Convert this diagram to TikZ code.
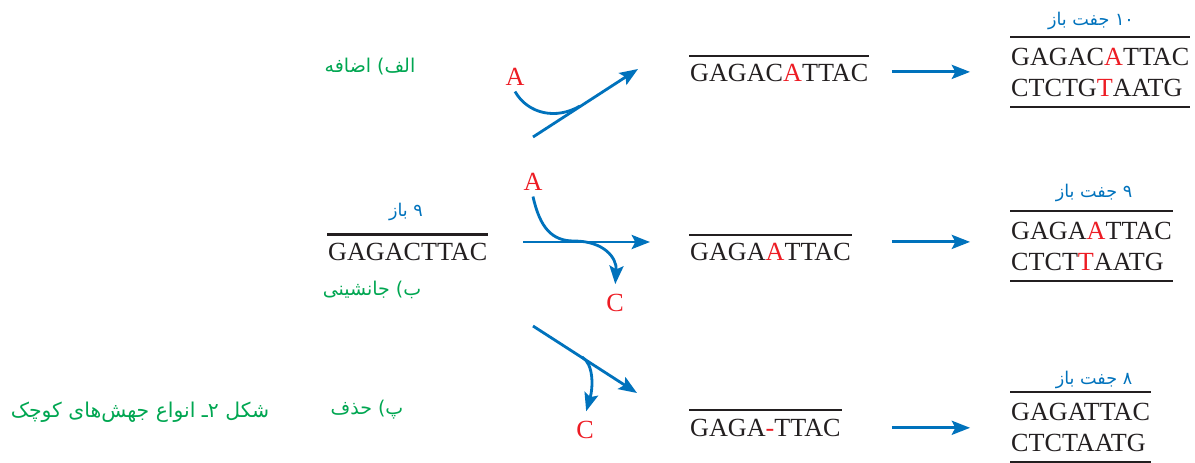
\documentclass[tikz,border=0pt]{standalone}
\usepackage{fontspec}
\setmainfont{Liberation Serif}
\newfontfamily\arabicfont[Script=Arabic]{DejaVu Sans}
\TeXXeTstate=1
\usetikzlibrary{positioning,arrows.meta}
\definecolor{arrowblue}{RGB}{0,114,188}
\definecolor{labelgreen}{RGB}{0,166,81}
\definecolor{basered}{RGB}{237,28,36}
\definecolor{seqgray}{RGB}{35,31,32}
\newcommand{\fa}[1]{\beginR #1\endR}
\newcommand{\mut}[1]{\textcolor{basered}{#1}}
\tikzset{
  flowarrow/.style={-{Stealth[length=13pt,width=10pt,inset=2.5pt]}, line width=2pt, draw=arrowblue},
  flowline/.style={line width=2pt, draw=arrowblue},
  seqline/.style={line width=1.6pt, draw=seqgray},
  strand/.style={anchor=west, inner xsep=0.6pt, inner ysep=6pt, text=seqgray, font=\fontsize{18.6}{22}\selectfont},
  duplex/.style={strand, inner ysep=7.2pt, align=left},
  base/.style={text=basered, font=\fontsize{18.6}{20}\selectfont, inner sep=4pt},
  typelabel/.style={text=labelgreen, font=\fontsize{13.5}{15}\arabicfont},
  sizelabel/.style={text=arrowblue, font=\fontsize{12.5}{15}\arabicfont}
}
\begin{document}
\begin{tikzpicture}[x=0.025cm, y=-0.025cm]
  \useasboundingbox (0,0) rectangle (1195,462);

  % insertion
  \node[typelabel] (instype) at (370,67) {\fa{الف) اضافه}};
  \node[base] (insA) at (515,77) {A};
  \coordinate (insfrom) at (533,137);
  \coordinate (insto) at (638,69);
  \coordinate (insjoin) at (580,106);
  \draw[flowarrow] (insfrom) -- (insto);
  \draw[flowline] (insA.south) .. controls (528,114) and (556,120) .. (insjoin);
  \node[strand] (ins1) at (689,73.3) {GAGAC\mut{A}TTAC};
  \draw[seqline] (ins1.north west) -- (ins1.north east);
  \node[sizelabel] (ins10) at (1091,21) {\fa{۱۰ جفت باز}};
  \node[duplex] (ins2) at (1010,72) {GAGAC\mut{A}TTAC\\CTCTG\mut{T}AATG};
  \draw[seqline] (ins2.north west) -- (ins2.north east);
  \draw[seqline] (ins2.south west) -- (ins2.south east);
  \draw[flowarrow, shorten >=28.4pt] ([shift={(-84pt,1pt)}]ins1.east -| ins2.west) -- ([yshift=1pt]ins1.east -| ins2.west);

  % substitution
  \node[sizelabel] (orig9) at (406,212) {\fa{۹ باز}};
  \node[strand] (orig) at (327,252) {GAGACTTAC};
  \draw[seqline] (orig.north west) -- (orig.north east);
  \node[typelabel] (subtype) at (372,290) {\fa{ب) جانشینی}};
  \node[base] (subA) at (533,182) {A};
  \node[base] (subC) at (615,303) {C};
  \coordinate (subfrom) at (523,242);
  \coordinate (subto) at (650,242);
  \draw[flowarrow] (subfrom) -- (subto);
  \draw[flowarrow, shorten >=3pt] (subA.south) .. controls (540,228) and (552,241) .. (574,241)
    .. controls (604,241) and (617,258) .. (subC.north);
  \node[strand] (sub1) at (689,252.3) {GAGA\mut{A}TTAC};
  \draw[seqline] (sub1.north west) -- (sub1.north east);
  \node[sizelabel] (sub9) at (1094,193) {\fa{۹ جفت باز}};
  \node[duplex] (sub2) at (1010,246) {GAGA\mut{A}TTAC\\CTCT\mut{T}AATG};
  \draw[seqline] (sub2.north west) -- (sub2.north east);
  \draw[seqline] (sub2.south west) -- (sub2.south east);
  \draw[flowarrow, shorten >=28.4pt] ([shift={(-84pt,7.4pt)}]sub1.east -| sub2.west) -- ([yshift=7.4pt]sub1.east -| sub2.west);

  % deletion
  \node[typelabel] (deltype) at (367,410) {\fa{پ) حذف}};
  \node[typelabel, font=\fontsize{14.5}{16}\arabicfont] (caption) at (140,412) {\fa{شکل ۲ـ انواع جهش^^^^200cهای کوچک}};
  \node[base] (delC) at (585,430) {C};
  \coordinate (delfrom) at (533,326);
  \coordinate (delto) at (637,393);
  \coordinate (deljoin) at (582,357);
  \draw[flowarrow] (delfrom) -- (delto);
  \draw[flowarrow, shorten >=3pt] (deljoin) .. controls (594,364) and (593,388) .. (delC.north);
  \node[strand] (del1) at (689,427.8) {GAGA\mut{-}TTAC};
  \draw[seqline] (del1.north west) -- (del1.north east);
  \node[sizelabel] (del8) at (1094,380) {\fa{۸ جفت باز}};
  \node[duplex] (del2) at (1010,427) {GAGATTAC\\CTCTAATG};
  \draw[seqline] (del2.north west) -- (del2.north east);
  \draw[seqline] (del2.south west) -- (del2.south east);
  \draw[flowarrow, shorten >=28.4pt] ([shift={(-84pt,0pt)}]del1.east -| del2.west) -- (del1.east -| del2.west);
\end{tikzpicture}
\end{document}
